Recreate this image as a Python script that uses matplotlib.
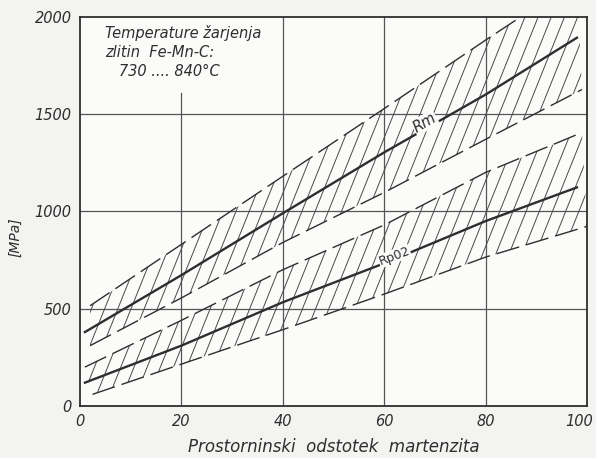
import matplotlib.pyplot as plt
import matplotlib.transforms as mtransforms
import numpy as np
from matplotlib.collections import LineCollection

# band limits (x = % martensite, y = MPa)
x_rm_mid = [1, 20, 40, 60, 80, 98]
rm_mid = [380, 672, 990, 1303, 1600, 1892]
x_rm_up = [2, 20, 40, 60, 80, 98]
rm_up = [515, 830, 1180, 1528, 1880, 2190]
x_rm_low = [2, 20, 40, 60, 80, 99]
rm_low = [310, 555, 840, 1097, 1370, 1626]

x_rp_mid = [1, 20, 40, 60, 80, 98]
rp_mid = [120, 310, 533, 733, 950, 1123]
x_rp_up = [1, 20, 40, 60, 80, 99]
rp_up = [200, 440, 700, 930, 1200, 1405]
x_rp_low = [2.5, 20, 40, 60, 80, 100]
rp_low = [60, 215, 392, 575, 765, 923]

xticks = [0, 20, 40, 60, 80, 100]
yticks = [0, 500, 1000, 1500, 2000]

ink = '#2e2e2e'
plt.rcParams['font.family'] = ['DejaVu Sans']

fig = plt.figure(figsize=(5.96, 4.58), dpi=100, facecolor='#f3f3f1')
ax = fig.add_axes([0.134, 0.1135, 0.851, 0.85])
ax.set_facecolor('#fbfbfa')
ax.set_xlim(0, 100)
ax.set_ylim(0, 2000)

# grid (the 20 % line stops under the note)
for gx in xticks[1:-1]:
    top = 0.805 if gx == 20 else 1
    ax.axvline(gx, ymax=top, color='#555555', lw=0.9, zorder=1)
for gy in yticks[1:-1]:
    ax.axhline(gy, color='#555555', lw=0.9, zorder=1)


def band(xu, yu, xl, yl, xm, ym):
    poly = ax.fill(list(xu) + list(xl)[::-1], list(yu) + list(yl)[::-1],
                   facecolor='none', edgecolor='none')[0]
    # steep hatching like the drawing
    starts = np.arange(-60, 110, 2.6)
    segs = [[(s, 0), (s + 40, 2600)] for s in starts]
    lc = LineCollection(segs, colors='#4a4a4a', linewidths=0.7, zorder=2)
    ax.add_collection(lc)
    lc.set_clip_path(poly)
    ax.plot(xu, yu, color=ink, lw=1.0, ls=(0, (17, 5)), zorder=3)
    ax.plot(xl, yl, color=ink, lw=1.0, ls=(0, (17, 5)), zorder=3)
    ax.plot(xm, ym, color=ink, lw=1.7, zorder=4)


band(x_rm_up, rm_up, x_rm_low, rm_low, x_rm_mid, rm_mid)
band(x_rp_up, rp_up, x_rp_low, rp_low, x_rp_mid, rp_mid)

ax.text(68, 1455, 'Rm', rotation=31, ha='center', va='center', fontsize=10.5,
        style='italic', color=ink, zorder=5,
        bbox=dict(facecolor='#fbfbfa', edgecolor='none', pad=0.5))
ax.text(62, 770, 'Rp02', rotation=21, ha='center', va='center', fontsize=9,
        color=ink, zorder=5,
        bbox=dict(facecolor='#fbfbfa', edgecolor='none', pad=0.3))

ax.text(5, 1955, 'Temperature žarjenja\nzlitin  Fe-Mn-C:\n   730 .... 840°C',
        ha='left', va='top', fontsize=10.5, style='italic', color=ink,
        linespacing=1.3)

ax.set_xticks(xticks)
ax.set_yticks(yticks)
ax.set_xticklabels([str(v) for v in xticks], style='italic', fontsize=10.5, color=ink)
ax.set_yticklabels([str(v) for v in yticks], style='italic', fontsize=10.5, color=ink)
ax.tick_params(length=0, pad=6)
# keep "100" inside the picture
last = ax.get_xticklabels()[-1]
last.set_transform(last.get_transform() +
                   mtransforms.ScaledTranslation(-8 / 100, 0, fig.dpi_scale_trans))
for sp in ax.spines.values():
    sp.set_linewidth(1.3)
    sp.set_color(ink)

ax.set_xlabel('Prostorninski  odstotek  martenzita', style='italic',
              fontsize=12, color=ink, labelpad=6)
fig.text(15 / 596, 1 - 237 / 458, '[MPa]', rotation=90, style='italic',
         fontsize=10, color=ink, ha='center', va='center')

fig.savefig('out.png', dpi=100, facecolor=fig.get_facecolor())
